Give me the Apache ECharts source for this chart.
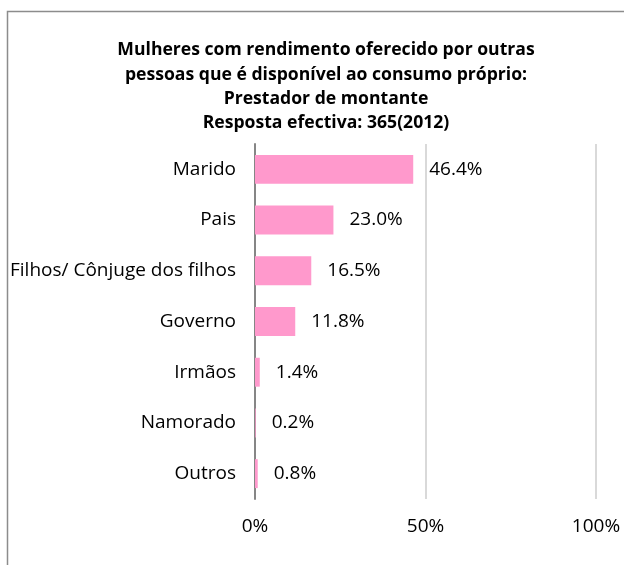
<!DOCTYPE html>
<html>
<head>
<meta charset="utf-8">
<script src="https://cdn.jsdelivr.net/npm/echarts@6/dist/echarts.min.js"></script>
<style>
  html, body { margin: 0; padding: 0; background: #fff; }
  #chart { width: 624px; height: 565px; }
</style>
</head>
<body>
<div id="chart"></div>
<script>
// Who provides the money: share of respondents per provider
const categories = ['Marido', 'Pais', 'Filhos/ Cônjuge dos filhos', 'Governo', 'Irmãos', 'Namorado', 'Outros'];
const shares = [46.4, 23.0, 16.5, 11.8, 1.4, 0.2, 0.8];
const tickValues = [0, 50, 100];
const titleLines = [
  'Mulheres com rendimento oferecido por outras',
  'pessoas que é disponível ao consumo próprio:',
  'Prestador de montante',
  'Resposta efectiva: 365(2012)'
];

const FONT = '"Open Sans", sans-serif';
const chart = echarts.init(document.getElementById('chart'));

chart.setOption({
  animation: false,
  graphic: [{
    type: 'rect',
    shape: { x: 7.5, y: 11.5, width: 700, height: 700 },
    style: { fill: 'none', stroke: '#8c8c8c', lineWidth: 1.5 },
    silent: true
  }],
  title: {
    text: titleLines.join('\n'),
    left: 321,
    top: 33,
    textAlign: 'center',
    textStyle: { fontFamily: FONT, fontWeight: 'bold', fontSize: 17.6, lineHeight: 24.4, color: '#000' }
  },
  grid: { left: 255, right: 28, top: 144, bottom: 66, containLabel: false },
  xAxis: {
    type: 'value',
    min: tickValues[0],
    max: tickValues[tickValues.length - 1],
    interval: tickValues[1] - tickValues[0],
    axisLine: { show: false },
    axisTick: { show: false },
    axisLabel: {
      formatter: '{value}%',
      fontFamily: FONT, fontSize: 19, color: '#000', margin: 18
    },
    splitLine: { show: true, lineStyle: { color: '#d9d9d9', width: 2 } }
  },
  yAxis: {
    type: 'category',
    data: categories,
    inverse: true,
    axisLine: { show: true, lineStyle: { color: '#868686', width: 2 } },
    axisTick: { show: false },
    axisLabel: { fontFamily: FONT, fontSize: 19, color: '#000', margin: 19 }
  },
  series: [{
    type: 'bar',
    data: shares,
    barCategoryGap: '43%',
    itemStyle: { color: '#ff99cc' },
    label: {
      show: true,
      position: 'right',
      distance: 16,
      formatter: p => p.value.toFixed(1) + '%',
      fontFamily: FONT, fontSize: 19, color: '#000'
    }
  }]
});
</script>
</body>
</html>
